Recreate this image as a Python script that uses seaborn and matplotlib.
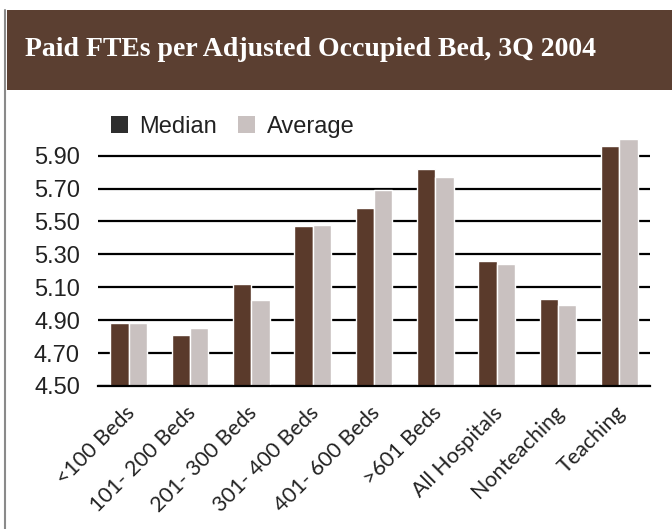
import matplotlib
matplotlib.use("Agg")
import matplotlib.pyplot as plt
import matplotlib.transforms as mtransforms
from matplotlib.patches import Rectangle, Patch
from matplotlib.lines import Line2D
import seaborn as sns
import pandas as pd

# Paid FTEs per adjusted occupied bed, by hospital group
categories = ["<100 Beds", "101- 200 Beds", "201- 300 Beds", "301- 400 Beds",
              "401- 600 Beds", ">601 Beds", "All Hospitals", "Nonteaching", "Teaching"]
median_vals = [4.88, 4.81, 5.12, 5.47, 5.58, 5.82, 5.26, 5.03, 5.96]
average_vals = [4.88, 4.85, 5.02, 5.48, 5.69, 5.77, 5.24, 4.99, 6.00]
series_names = ["Median", "Average"]
y_ticks = [4.50, 4.70, 4.90, 5.10, 5.30, 5.50, 5.70, 5.90]

title_text = "Paid FTEs per Adjusted Occupied Bed, 3Q 2004"

median_color = "#5a3a2b"
average_color = "#c9c1c0"
banner_color = "#5b3f31"

df = pd.DataFrame({
    "group": categories * 2,
    "series": [series_names[0]] * len(categories) + [series_names[1]] * len(categories),
    "value": median_vals + average_vals,
})

sns.set_theme(style="white")
plt.rcParams["font.family"] = ["Liberation Sans", "DejaVu Sans"]

fig = plt.figure(figsize=(6.72, 5.29), dpi=100)
fig.patch.set_facecolor("white")

# header banner
fig.patches.append(Rectangle((7 / 672, 1 - 90 / 529), 1 - 7 / 672, 80 / 529,
                             transform=fig.transFigure, facecolor=banner_color,
                             edgecolor="none", zorder=0))
fig.lines.append(Line2D([5 / 672, 5 / 672], [0, 1 - 10 / 529], transform=fig.transFigure,
                        color="#8a8a8a", lw=1.5))
fig.text(25 / 672, 1 - 49 / 529, title_text, color="white", fontsize=20,
         fontweight="bold", family=["Liberation Serif", "DejaVu Serif"],
         ha="left", va="center")

ax = fig.add_axes([98 / 672, 1 - 386 / 529, 552 / 672, (386 - 131) / 529])
ax.set_facecolor("white")

sns.barplot(data=df, x="group", y="value", hue="series", order=categories,
            hue_order=series_names, palette=[median_color, average_color],
            width=0.6, gap=0, saturation=1, ax=ax, legend=False, zorder=3)

ax.set_ylim(4.5, 6.05)
ax.set_xlim(-0.5, len(categories) - 0.5)
ax.set_yticks(y_ticks)
ax.set_yticklabels([f"{v:.2f}" for v in y_ticks], fontsize=17, color="#222222")
ax.set_xlabel("")
ax.set_ylabel("")

ax.yaxis.grid(True, color="black", lw=1.6, zorder=0)
ax.set_axisbelow(True)
for s in ["top", "right", "left"]:
    ax.spines[s].set_visible(False)
ax.spines["bottom"].set_color("black")
ax.spines["bottom"].set_linewidth(1.6)
ax.spines["bottom"].set_zorder(5)

ax.tick_params(axis="y", length=0, pad=13)
ax.tick_params(axis="x", which="major", length=0, pad=12)
ax.set_xticks([i - 0.5 for i in range(len(categories) + 1)], minor=True)
ax.tick_params(axis="x", which="minor", length=5, width=1.4, color="black", direction="out")

offset = mtransforms.ScaledTranslation(10 / 100, 0, fig.dpi_scale_trans)
for lbl in ax.get_xticklabels():
    lbl.set_rotation(45)
    lbl.set_ha("right")
    lbl.set_fontsize(15.5)
    lbl.set_family(["Lato", "DejaVu Sans"])
    lbl.set_color("#222222")
    lbl.set_transform(lbl.get_transform() + offset)

handles = [Patch(facecolor="#2e2e2e", edgecolor="none", label=series_names[0]),
           Patch(facecolor=average_color, edgecolor="none", label=series_names[1])]
fig.legend(handles=handles, loc="upper left", bbox_to_anchor=(111 / 672, 1 - 116 / 529),
           ncol=2, frameon=False, fontsize=17, handlelength=0.7, handleheight=0.7,
           handletextpad=0.5, columnspacing=0.9, labelcolor="#222222",
           borderaxespad=0, borderpad=0)

fig.savefig("out.png", dpi=100, facecolor="white")
